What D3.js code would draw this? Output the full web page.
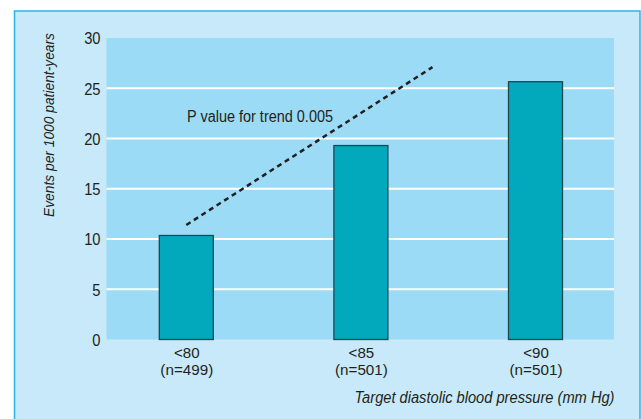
<!DOCTYPE html>
<html>
<head>
<meta charset="utf-8">
<script src="https://cdn.jsdelivr.net/npm/d3@7"></script>
<style>
  body { margin: 0; background: #fff; }
  svg text { font-family: "Liberation Sans", Arial, sans-serif; fill: #231f20; }
</style>
</head>
<body>
<svg id="chart"></svg>
<script>
// Data
const categories = ['<80', '<85', '<90'];
const sampleSizes = ['(n=499)', '(n=501)', '(n=501)'];
const events = [10.35, 19.3, 25.65];
const yTicks = [0, 5, 10, 15, 20, 25, 30];
// trend line ends: position in category units, value
const trendPos = [0, 1.41];
const trendValues = [11.4, 27.1];

// Chart dimensions
const width = 641;
const height = 419;
const plot = { left: 106.5, right: 614, top: 38, bottom: 339.5 };

const svg = d3.select('#chart')
  .attr('width', width)
  .attr('height', height);

// stretch/squeeze text horizontally (the original uses a narrow face)
function condense(sel, k) {
  sel.each(function() {
    const w = this.getComputedTextLength();
    d3.select(this)
      .attr('textLength', w * k)
      .attr('lengthAdjust', 'spacingAndGlyphs');
  });
}

// Outer panel
svg.append('rect')
  .attr('x', 14.5)
  .attr('y', 11)
  .attr('width', 625.5)
  .attr('height', 420)
  .attr('fill', '#c7e9f9')
  .attr('stroke', '#2cb4e6')
  .attr('stroke-width', 1.5);

// Plot background
svg.append('rect')
  .attr('x', plot.left)
  .attr('y', plot.top)
  .attr('width', plot.right - plot.left)
  .attr('height', plot.bottom - plot.top)
  .attr('fill', '#9cdbf6');

// Scales
const xScale = d3.scalePoint()
  .domain(categories)
  .range([186.3, 535.5]);

const posScale = d3.scaleLinear()
  .domain([0, categories.length - 1])
  .range(xScale.range());

const yScale = d3.scaleLinear()
  .domain([0, 30])
  .range([plot.bottom, plot.top]);

// Gridlines (white)
svg.append('g')
  .selectAll('line')
  .data(yTicks.filter(d => d > 0 && d < 30))
  .enter().append('line')
  .attr('x1', plot.left)
  .attr('x2', plot.right)
  .attr('y1', d => yScale(d))
  .attr('y2', d => yScale(d))
  .attr('stroke', '#ffffff')
  .attr('stroke-width', 2);

// Y axis
const yAxis = d3.axisLeft(yScale)
  .tickValues(yTicks)
  .tickSize(0)
  .tickPadding(6);
const yG = svg.append('g')
  .attr('transform', `translate(${plot.left}, 0)`)
  .call(yAxis);
yG.select('.domain').remove();
yG.selectAll('text')
  .attr('fill', '#231f20')
  .style('font-size', '16px')
  .attr('dy', '0.36em')
  .call(condense, 0.92);

// Bars
const barWidth = 54;
svg.selectAll('.bar')
  .data(events)
  .enter().append('rect')
  .attr('class', 'bar')
  .attr('x', (d, i) => xScale(categories[i]) - barWidth / 2)
  .attr('y', d => yScale(d))
  .attr('width', barWidth)
  .attr('height', d => yScale(0) - yScale(d))
  .attr('fill', '#02a9bd')
  .attr('stroke', '#1f4550')
  .attr('stroke-width', 1.3);

// X axis labels (two lines per category)
const xAxis = d3.axisBottom(xScale).tickSize(0).tickPadding(0);
const xG = svg.append('g')
  .attr('transform', `translate(0, ${plot.bottom})`)
  .call(xAxis);
xG.select('.domain').remove();
xG.selectAll('.tick text').remove();
xG.selectAll('.tick').each(function(d, i) {
  const g = d3.select(this);
  g.append('text')
    .attr('text-anchor', 'middle')
    .attr('y', 18.5)
    .style('font-size', '14.5px')
    .text(categories[i])
    .call(condense, 1.04);
  g.append('text')
    .attr('text-anchor', 'middle')
    .attr('y', 35.2)
    .style('font-size', '14.5px')
    .text(sampleSizes[i])
    .call(condense, 1.05);
});

// Trend line
const line = d3.line()
  .x(d => posScale(d[0]))
  .y(d => yScale(d[1]));
svg.append('path')
  .datum(trendPos.map((p, i) => [p, trendValues[i]]))
  .attr('d', line)
  .attr('fill', 'none')
  .attr('stroke', '#231f20')
  .attr('stroke-width', 2.5)
  .attr('stroke-dasharray', '5,4');

svg.append('text')
  .attr('x', 187)
  .attr('y', 121.5)
  .style('font-size', '16px')
  .attr('textLength', 146)
  .attr('lengthAdjust', 'spacingAndGlyphs')
  .text('P value for trend 0.005');

// Axis titles
svg.append('text')
  .attr('transform', 'translate(53.5, 125) rotate(-90)')
  .attr('text-anchor', 'middle')
  .style('font-size', '15px')
  .style('font-style', 'italic')
  .attr('textLength', 184)
  .attr('lengthAdjust', 'spacingAndGlyphs')
  .text('Events per 1000 patient-years');

svg.append('text')
  .attr('x', 614.5)
  .attr('y', 403)
  .attr('text-anchor', 'end')
  .style('font-size', '16px')
  .style('font-style', 'italic')
  .attr('textLength', 260)
  .attr('lengthAdjust', 'spacingAndGlyphs')
  .text('Target diastolic blood pressure (mm Hg)');
</script>
</body>
</html>
